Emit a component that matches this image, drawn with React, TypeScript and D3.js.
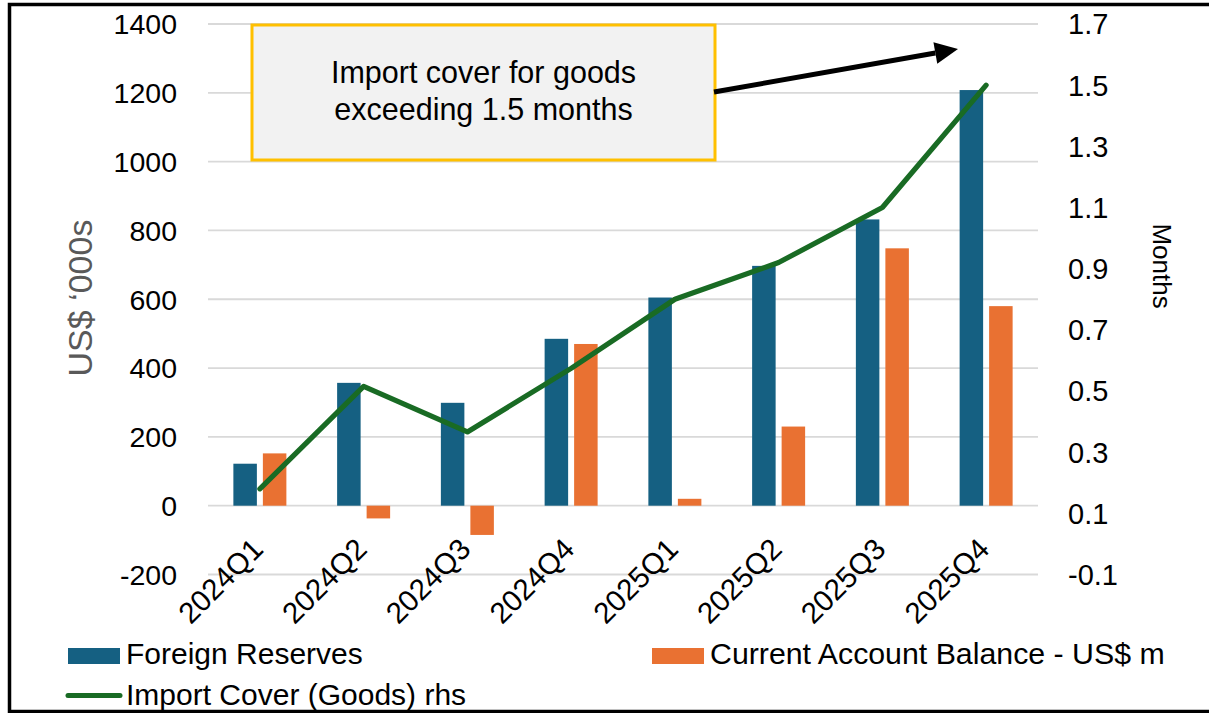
import React from "react";
import * as d3 from "d3";

const categories = ["2024Q1", "2024Q2", "2024Q3", "2024Q4", "2025Q1", "2025Q2", "2025Q3", "2025Q4"];
const foreignReserves = [122, 357, 299, 485, 605, 697, 832, 1208];
const currentAccount = [152, -37, -85, 470, 20, 230, 748, 580];
const importCover = [0.18, 0.515, 0.366, 0.574, 0.80, 0.92, 1.10, 1.50];
const leftTicks = [-200, 0, 200, 400, 600, 800, 1000, 1200, 1400];
const rightTicks = [-0.1, 0.1, 0.3, 0.5, 0.7, 0.9, 1.1, 1.3, 1.5, 1.7];

const W = 1209;
const H = 713;
const BLUE = "#156082";
const ORANGE = "#E97132";
const GREEN = "#196B24";
const FONT = "'Liberation Sans', Arial, sans-serif";

export default function App() {
  const plotL = 208, plotR = 1038, plotT = 24, plotB = 574.5;
  const x = d3.scaleBand<string>().domain(categories).range([plotL, plotR]).padding(0);
  const groupW = 53;
  const sub = d3.scaleBand<string>().domain(["res", "cab"]).range([0, groupW]).paddingInner(6 / 29.5).paddingOuter(0);
  const yL = d3.scaleLinear().domain([-200, 1400]).range([plotB, plotT]);
  const yR = d3.scaleLinear().domain([-0.1, 1.7]).range([plotB, plotT]);
  const cx = (c: string) => (x(c) as number) + x.bandwidth() / 2;
  const line = d3.line<number>().x((_, i) => cx(categories[i])).y((v) => yR(v));

  const bar = (c: string, key: string, v: number, color: string) => {
    const bx = cx(c) - groupW / 2 + (sub(key) as number);
    const y0 = yL(0);
    const y1 = yL(v);
    return <rect key={c + key} x={bx} y={Math.min(y0, y1)} width={sub.bandwidth()} height={Math.abs(y1 - y0)} fill={color} />;
  };

  // annotation arrow
  const ax0 = 714, ay0 = 92, tipX = 958, tipY = 49;
  const ang = Math.atan2(tipY - ay0, tipX - ax0);
  const headL = 23, headW = 11;
  const bxh = tipX - headL * Math.cos(ang), byh = tipY - headL * Math.sin(ang);
  const px = -Math.sin(ang), py = Math.cos(ang);
  const head = `${tipX},${tipY} ${bxh + px * headW},${byh + py * headW} ${bxh - px * headW},${byh - py * headW}`;

  return (
    <svg width={W} height={H} style={{ position: "absolute", left: 0, top: 0, background: "#fff" }} fontFamily={FONT}>
      <rect x={0} y={0} width={W} height={H} fill="#fff" />
      {leftTicks.map((t) => (
        <line key={t} x1={plotL} x2={plotR} y1={yL(t)} y2={yL(t)} stroke="#d9d9d9" strokeWidth={1.8} />
      ))}
      {categories.map((c, i) => bar(c, "res", foreignReserves[i], BLUE))}
      {categories.map((c, i) => bar(c, "cab", currentAccount[i], ORANGE))}
      <path d={line(importCover) as string} fill="none" stroke={GREEN} strokeWidth={5.2} strokeLinecap="round" strokeLinejoin="round" />

      {leftTicks.map((t) => (
        <text key={t} x={177} y={yL(t)} dy="0.36em" textAnchor="end" fontSize={28.5} fill="#000">{t}</text>
      ))}
      {rightTicks.map((t) => (
        <text key={t} x={1068} y={yR(t)} dy="0.36em" textAnchor="start" fontSize={29} fill="#000">{t.toFixed(1)}</text>
      ))}
      {categories.map((c) => (
        <text key={c} transform={`translate(${cx(c) + 5},${551}) rotate(-45)`} textAnchor="end" fontSize={29.5} fill="#000">{c}</text>
      ))}

      <text transform="translate(92,298) rotate(-90)" textAnchor="middle" fontSize={34} fill="#595959">US$ ‘000s</text>
      <text transform="translate(1153,266) rotate(90)" textAnchor="middle" fontSize={26} fill="#000">Months</text>

      <rect x={252} y={25} width={463} height={135} fill="#f2f2f2" stroke="#ffc000" strokeWidth={3} />
      <text x={483.5} y={83} textAnchor="middle" fontSize={30.5} fill="#000">Import cover for goods</text>
      <text x={483.5} y={120} textAnchor="middle" fontSize={30.5} fill="#000">exceeding 1.5 months</text>
      <line x1={ax0} y1={ay0} x2={bxh} y2={byh} stroke="#000" strokeWidth={5} />
      <polygon points={head} fill="#000" />

      <rect x={68} y={648} width={52} height={16} fill={BLUE} />
      <text x={126} y={664} fontSize={30} fill="#000">Foreign Reserves</text>
      <rect x={652} y={648} width={52} height={16} fill={ORANGE} />
      <text x={710} y={664} fontSize={30.3} fill="#000">Current Account Balance - US$ m</text>
      <line x1={68} x2={120} y1={695.5} y2={695.5} stroke={GREEN} strokeWidth={5} strokeLinecap="round" />
      <text x={126} y={705} fontSize={30} fill="#000">Import Cover (Goods) rhs</text>

      <rect x={9.5} y={4.5} width={1215} height={707} fill="none" stroke="#000" strokeWidth={3.5} />
    </svg>
  );
}
